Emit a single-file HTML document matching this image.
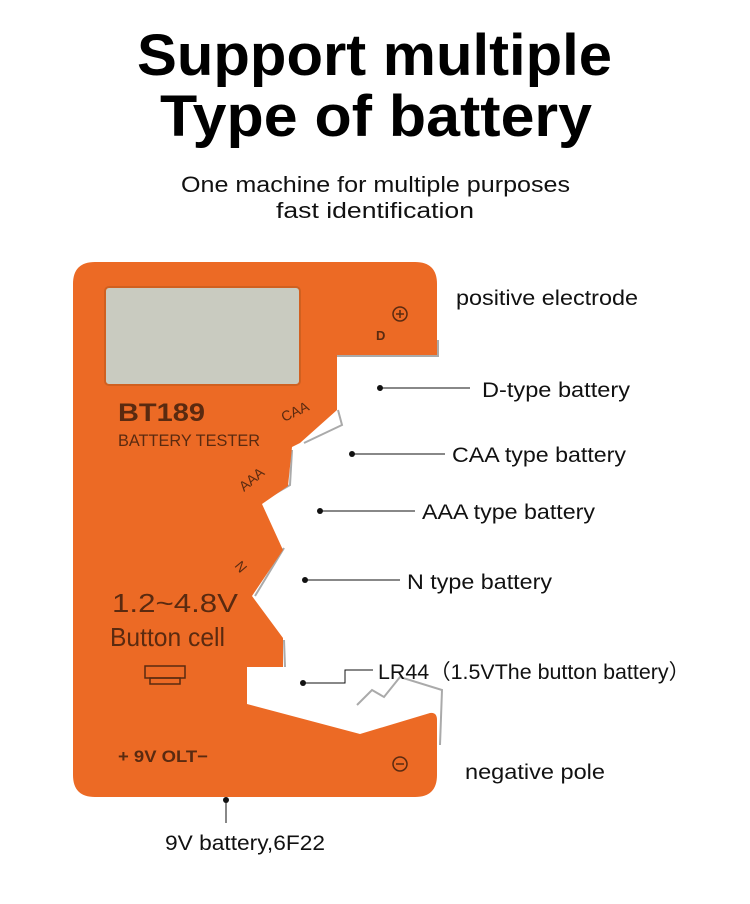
<!DOCTYPE html>
<html><head><meta charset="utf-8"><style>
body{margin:0;background:#fff;width:750px;height:904px;overflow:hidden}
svg{display:block}
</style></head><body>
<svg width="750" height="904" viewBox="0 0 750 904" xmlns="http://www.w3.org/2000/svg" font-family="Liberation Sans, DejaVu Sans, sans-serif">
<text x="137" y="75" font-size="58" font-weight="bold" fill="#000" textLength="475" lengthAdjust="spacingAndGlyphs">Support multiple</text>
<text x="160" y="136" font-size="58" font-weight="bold" fill="#000" textLength="432" lengthAdjust="spacingAndGlyphs">Type of battery</text>
<text x="181" y="192" font-size="22" fill="#111" textLength="389" lengthAdjust="spacingAndGlyphs">One machine for multiple purposes</text>
<text x="276" y="218" font-size="22" fill="#111" textLength="198" lengthAdjust="spacingAndGlyphs">fast identification</text>

<g fill="none" stroke="#aaa" stroke-width="2">
<path d="M337 356 L438 356 L438 340"/>
<path d="M338 410 L342 425 L304 443"/>
<path d="M292 450 L290 485 L264 500"/>
<path d="M284 548 L255 596"/>
<path d="M284 640 L285 667"/>
<path d="M357 705 L372 690 L384 697 L400 677 L442 690 L440 745"/>
</g>
<path d="M95 262 L415 262 Q437 262 437 284 L437 355 L337 355 L337 410 L300 443 L292 447 L288 486 L262 504 L283 550 L252 596 L283 638 L283 667 L247 667 L247 704 L360 734 L430 713 Q437 712 437 720 L437 775 Q437 797 415 797 L95 797 Q73 797 73 775 L73 284 Q73 262 95 262 Z" fill="#ec6a25"/>
<rect x="105" y="287" width="195" height="98" rx="4" fill="#c9cbc0" stroke="#d06020" stroke-width="2"/>
<g fill="#5a2a10">
<text x="118" y="421" font-size="25" font-weight="bold" textLength="87" lengthAdjust="spacingAndGlyphs">BT189</text>
<text x="118" y="446" font-size="17" textLength="142" lengthAdjust="spacingAndGlyphs">BATTERY TESTER</text>
<text x="284" y="422" font-size="14" transform="rotate(-25 284 422)">CAA</text>
<text x="244" y="492" font-size="14" transform="rotate(-40 244 492)">AAA</text>
<text x="234" y="566" font-size="14" transform="rotate(50 234 566)">N</text>
<text x="112" y="612" font-size="26" textLength="126" lengthAdjust="spacingAndGlyphs">1.2~4.8V</text>
<text x="110" y="646" font-size="26" textLength="115" lengthAdjust="spacingAndGlyphs">Button cell</text>
<text x="118" y="762" font-size="17" font-weight="bold" textLength="90" lengthAdjust="spacingAndGlyphs">+ 9V OLT−</text>
<text x="376" y="340" font-size="13" font-weight="bold">D</text>
</g>
<g fill="none" stroke="#5a2a10" stroke-width="1.5">
<rect x="145" y="666" width="40" height="12"/>
<rect x="150" y="678" width="30" height="6"/>
<circle cx="400" cy="314" r="7"/><path d="M396 314h8M400 310v8"/>
<circle cx="400" cy="764" r="7"/><path d="M396 764h8"/>
</g>

<g stroke="#111" stroke-width="1" fill="none">
<path d="M380 388 H470"/>
<path d="M352 454 H445"/>
<path d="M320 511 H415"/>
<path d="M305 580 H400"/>
<path d="M303 683 H345 V670 H373"/>
<path d="M226 800 V823"/>
</g>
<g fill="#111">
<circle cx="380" cy="388" r="3"/><circle cx="352" cy="454" r="3"/>
<circle cx="320" cy="511" r="3"/><circle cx="305" cy="580" r="3"/>
<circle cx="303" cy="683" r="3"/><circle cx="226" cy="800" r="3"/>
</g>
<g fill="#111" font-size="21">
<text x="456" y="305" textLength="182" lengthAdjust="spacingAndGlyphs">positive electrode</text>
<text x="482" y="397" textLength="148" lengthAdjust="spacingAndGlyphs">D-type battery</text>
<text x="452" y="462" textLength="174" lengthAdjust="spacingAndGlyphs">CAA type battery</text>
<text x="422" y="519" textLength="173" lengthAdjust="spacingAndGlyphs">AAA type battery</text>
<text x="407" y="589" textLength="145" lengthAdjust="spacingAndGlyphs">N type battery</text>
<text x="378" y="679" textLength="312" lengthAdjust="spacingAndGlyphs">LR44（1.5VThe button battery）</text>
<text x="465" y="779" textLength="140" lengthAdjust="spacingAndGlyphs">negative pole</text>
<text x="165" y="850" textLength="160" lengthAdjust="spacingAndGlyphs">9V battery,6F22</text>
</g>
</svg>
</body></html>
